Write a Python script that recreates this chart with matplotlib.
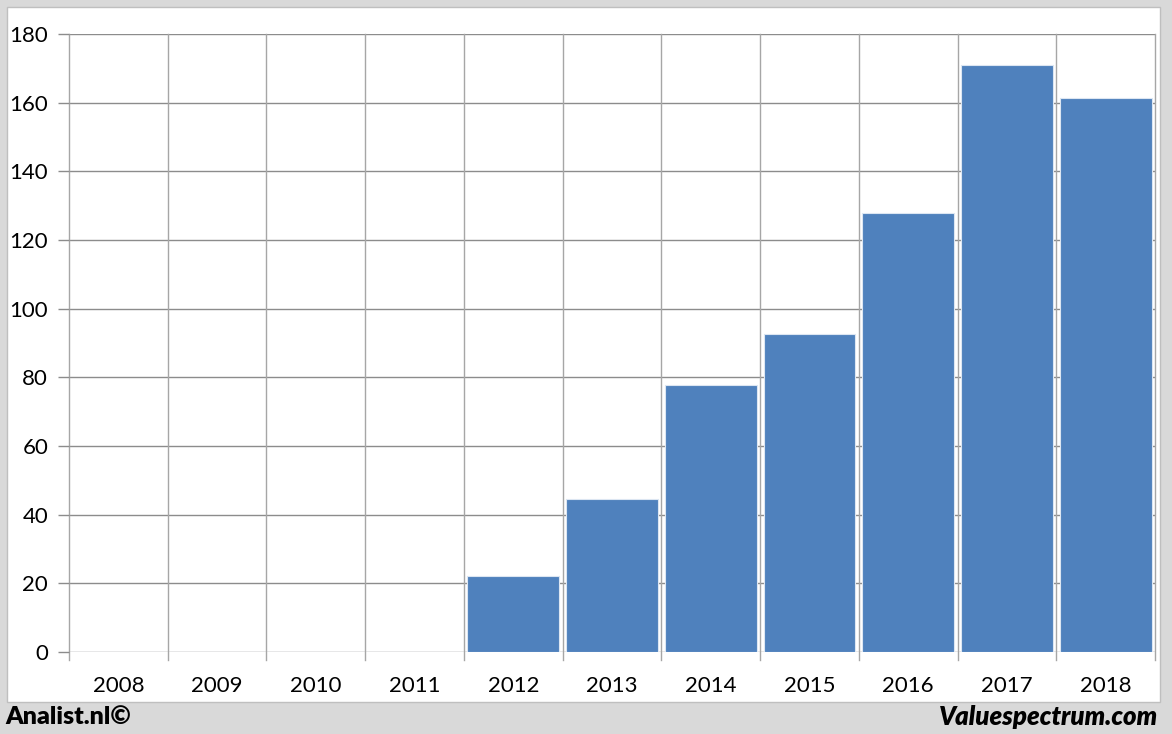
import matplotlib
matplotlib.use("Agg")
import matplotlib.pyplot as plt
from matplotlib.patches import Rectangle

years = ["2008", "2009", "2010", "2011", "2012", "2013", "2014", "2015", "2016", "2017", "2018"]
values = [0, 0, 0, 0, 22.1, 44.6, 77.7, 92.6, 127.9, 171.0, 161.4]
yticks = [0, 20, 40, 60, 80, 100, 120, 140, 160, 180]

W, H = 1172, 734
fig = plt.figure(figsize=(W / 100, H / 100), dpi=100)
fig.patch.set_facecolor("#d9d9d9")
plt.rcParams['font.family'] = ['Lato', 'DejaVu Sans']

# white panel
fig.patches.append(Rectangle((7 / W, 1 - 702 / H), (1160 - 7) / W, (702 - 7) / H,
                             transform=fig.transFigure, facecolor="white",
                             edgecolor="#bfbfbf", linewidth=1, zorder=-5))

left, right, top, bottom = 69, 1155, 34, 652
ax = fig.add_axes([left / W, 1 - bottom / H, (right - left) / W, (bottom - top) / H])
ax.set_zorder(2)
ax.set_facecolor("none")

n = len(years)
xs = list(range(n))
ax.bar(xs, values, width=0.93, color="#4f81bd", edgecolor="#dce6f2", linewidth=0.8, zorder=3)

ax.set_xlim(-0.5, n - 0.5)
ax.set_ylim(0, 180)

ax.set_yticks(yticks)
ax.set_yticklabels([str(v) for v in yticks], fontsize=16)
ax.set_xticks(xs)
ax.set_xticklabels(years, fontsize=16)
ax.tick_params(axis="x", length=0, pad=17)
ax.tick_params(axis="y", length=8, color="#8c8c8c", width=1, pad=7)

# horizontal grid
for v in yticks:
    ax.axhline(v, color="#8c8c8c", linewidth=1, zorder=1)
# vertical grid at category boundaries with ticks below
for b in range(n + 1):
    ax.plot([b - 0.5, b - 0.5], [-2.4, 180], color="#a6a6a6", linewidth=1,
            zorder=1, clip_on=False)

for s in ax.spines.values():
    s.set_visible(False)

fig.text(5 / W, 1 - 717 / H, "Analist.nl©", fontsize=18, fontweight="heavy",
         ha="left", va="center", color="black")
fig.text(1158 / W, 1 - 717 / H, "Valuespectrum.com", fontsize=18.5, fontweight="heavy",
         fontstyle="italic", ha="right", va="center", color="black")

fig.savefig("out.png", dpi=100, facecolor=fig.get_facecolor())
